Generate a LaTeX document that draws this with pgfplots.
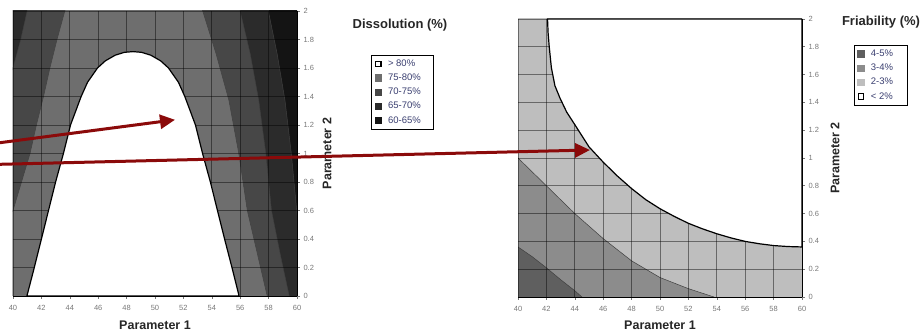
\documentclass[border=0pt]{standalone}
\usepackage{fontspec}
\setmainfont{Liberation Sans}
\usepackage{pgfplots}
\pgfplotsset{compat=1.18}
\usetikzlibrary{arrows.meta}
\definecolor{dA}{HTML}{141414}
\definecolor{dB}{HTML}{2B2B2B}
\definecolor{dC}{HTML}{474747}
\definecolor{dD}{HTML}{6E6E6E}
\definecolor{fA}{HTML}{5F5F5F}
\definecolor{fB}{HTML}{8C8C8C}
\definecolor{fC}{HTML}{BEBEBE}
\definecolor{arrowred}{HTML}{8B0A0A}
\definecolor{legtext}{HTML}{3A3F70}
\definecolor{ticktext}{HTML}{777777}
\pgfplotsset{
  contourax/.style={
    scale only axis, width=284pt,
    xmin=40, xmax=60, ymin=0, ymax=2,
    xtick={40,42,44,46,48,50,52,54,56,58,60},
    ytick={0,0.2,0.4,0.6,0.8,1,1.2,1.4,1.6,1.8,2},
    axis x line*=bottom, axis y line*=right,
    axis on top,
    tick align=outside, major tick length=3pt,
    tick style={ticktext, line width=0.6pt},
    axis line style={black, line width=0.9pt},
    ticklabel style={font=\fontsize{7.5}{8}\selectfont, text=ticktext},
    xticklabel style={yshift=-3pt},
    /pgf/number format/assume math mode=true,
    xlabel={Parameter 1}, ylabel={Parameter 2},
    label style={font=\bfseries\fontsize{12.5}{14}\selectfont, text=black!85},
    legend cell align=left,
    legend style={draw=black, line width=1pt, font=\fontsize{9.5}{11}\selectfont,
      text=legtext, anchor=north west, row sep=2pt, column sep=4pt,
      inner xsep=3pt, inner ysep=2.5pt},
  },
  gimg/.style={legend image code/.code={\fill[#1] (0pt,-3.2pt) rectangle (6.4pt,3.2pt);}},
  wimg/.style={legend image code/.code={\draw[black, line width=1.1pt, fill=white] (0.5pt,-2.7pt) rectangle (5.9pt,2.7pt);}},
  gridln/.style={black, opacity=0.45, line width=0.8pt, mark=none, forget plot},
  band/.style={draw=black!75, line width=0.5pt, mark=none, forget plot},
}
\begin{document}
\begin{tikzpicture}
\useasboundingbox (0pt,0pt) rectangle (922pt,331pt);
% ---------------- Dissolution ----------------
\begin{axis}[contourax, at={(13pt,35pt)}, anchor=south west, height=285pt,
  xlabel style={at={(axis description cs:0.5,-0.102)}, anchor=center},
  ylabel style={at={(axis description cs:1.106,0.5)}, anchor=center},
  legend style={at={(1.261,0.846)}}]
\addlegendimage{wimg}\addlegendentry{\makebox[40pt][l]{> 80\%}}
\addlegendimage{gimg=dD}\addlegendentry{\makebox[40pt][l]{75-80\%}}
\addlegendimage{gimg=dC}\addlegendentry{\makebox[40pt][l]{70-75\%}}
\addlegendimage{gimg=dB}\addlegendentry{\makebox[40pt][l]{65-70\%}}
\addlegendimage{gimg=dA}\addlegendentry{\makebox[40pt][l]{60-65\%}}
% 60-65 base
\addplot[forget plot, mark=none, fill=dA, draw=none] coordinates {(39,-0.2)(61,-0.2)(61,2.2)(39,2.2)} --cycle;
% 65-70
\addplot[band, fill=dB] coordinates {(38,2.2)(57.55,2.2)(57.98,2.0)(58.6,1.7)(59.15,1.375)(59.6,1.0)(59.98,0.6)(60.3,0.3)(60.6,0)(60.8,-0.2)(38,-0.2)} --cycle;
% 70-75
\addplot[band, fill=dC] coordinates {(41.2,2.2)(41.0,2.0)(40.55,1.8)(40.0,1.6)(39.4,1.35)(38.6,1.0)(38,0.6)(38,-0.2)(59.8,-0.2)(59.45,0)(58.8,0.3)(58.2,0.6)(57.8,1.0)(57.3,1.375)(56.7,1.7)(55.99,2.0)(55.5,2.2)} --cycle;
% 75-80
\addplot[band, fill=dD] coordinates {(44.2,2.2)(43.65,2.0)(43.1,1.8)(42.6,1.6)(42.15,1.4)(41.65,1.2)(41.2,1.0)(40.6,0.8)(40.0,0.6)(39.3,0.4)(38.5,0.15)(38.2,-0.2)(58.3,-0.2)(57.9,0)(57.2,0.3)(56.5,0.6)(55.9,1.0)(55.2,1.375)(54.3,1.7)(53.36,2.0)(52.75,2.2)} --cycle;
% grid
\addplot[gridln, ycomb] coordinates {(40,2)(42,2)(44,2)(46,2)(48,2)(50,2)(52,2)(54,2)(56,2)(58,2)};
\addplot[gridln, xcomb] coordinates {(60,0.2)(60,0.4)(60,0.6)(60,0.8)(60,1)(60,1.2)(60,1.4)(60,1.6)(60,1.8)(60,2)};
% > 80
\addplot[forget plot, mark=none, fill=white, draw=black, line width=1.2pt] coordinates {(40.98,0)(41.5,0.2)(42.0,0.4)(42.5,0.6)(43.0,0.8)(43.55,1.0)(44.05,1.2)(44.8,1.4)(45.25,1.5)(45.95,1.6)(46.5,1.65)(47.2,1.69)(47.85,1.71)(48.45,1.715)(49.05,1.71)(49.7,1.69)(50.4,1.65)(50.95,1.6)(51.65,1.5)(52.1,1.4)(52.85,1.2)(53.35,1.0)(53.9,0.8)(54.4,0.6)(54.9,0.4)(55.42,0.2)(55.92,0)} --cycle;
\end{axis}
% ---------------- Friability ----------------
\begin{axis}[contourax, at={(518pt,34pt)}, anchor=south west, height=278pt,
  xlabel style={at={(axis description cs:0.5,-0.1007)}, anchor=center},
  ylabel style={at={(axis description cs:1.116,0.5)}, anchor=center},
  legend style={at={(1.183,0.906)}}]
\addlegendimage{gimg=fA}\addlegendentry{\makebox[32pt][l]{4-5\%}}
\addlegendimage{gimg=fB}\addlegendentry{\makebox[32pt][l]{3-4\%}}
\addlegendimage{gimg=fC}\addlegendentry{\makebox[32pt][l]{2-3\%}}
\addlegendimage{wimg}\addlegendentry{\makebox[32pt][l]{< 2\%}}
\addplot[forget plot, mark=none, fill=fC, draw=none] coordinates {(39,-0.2)(61,-0.2)(61,2.2)(39,2.2)} --cycle;
\addplot[band, fill=fB] coordinates {(38,1.2)(40,1.0)(42,0.8)(44,0.6)(46,0.42)(48,0.26)(50,0.14)(52,0.06)(53.8,0)(54.6,-0.2)(38,-0.2)} --cycle;
\addplot[band, fill=fA] coordinates {(38,0.5)(40,0.36)(41,0.29)(42,0.21)(43,0.125)(44,0.045)(44.5,0)(44.9,-0.2)(38,-0.2)} --cycle;
\addplot[gridln, ycomb] coordinates {(40,2)(42,2)(44,2)(46,2)(48,2)(50,2)(52,2)(54,2)(56,2)(58,2)};
\addplot[gridln, xcomb] coordinates {(60,0.2)(60,0.4)(60,0.6)(60,0.8)(60,1)(60,1.2)(60,1.4)(60,1.6)(60,1.8)(60,2)};
\addplot[forget plot, mark=none, fill=white, draw=black, line width=1.2pt] coordinates {(42.08,2.0)(42.12,1.9)(42.2,1.8)(42.35,1.65)(42.6,1.52)(42.96,1.43)(43.43,1.33)(44.0,1.24)(45.0,1.08)(46.0,0.97)(47.0,0.87)(48.0,0.78)(49.0,0.7)(50.0,0.635)(51.0,0.58)(52.0,0.53)(53.0,0.49)(54.0,0.455)(55.0,0.425)(56.0,0.4)(57.0,0.383)(58.0,0.37)(59.0,0.363)(60.0,0.36)(60,2)} --cycle;
\end{axis}
% titles
\node[font=\bfseries\fontsize{13}{15}\selectfont, text=black!85] at (400pt,306pt) {Dissolution (\%)};
\node[font=\bfseries\fontsize{13}{15}\selectfont, text=black!85] at (881pt,309pt) {Friability (\%)};
% annotation arrows
\draw[arrowred, line width=3pt, -{Triangle[length=15pt, width=14pt]}] (0pt,188.3pt) -- (175pt,211.2pt);
\draw[arrowred, line width=3pt, -{Triangle[length=15pt, width=14pt]}] (0pt,166.7pt) -- (590pt,181pt);
\end{tikzpicture}
\end{document}
